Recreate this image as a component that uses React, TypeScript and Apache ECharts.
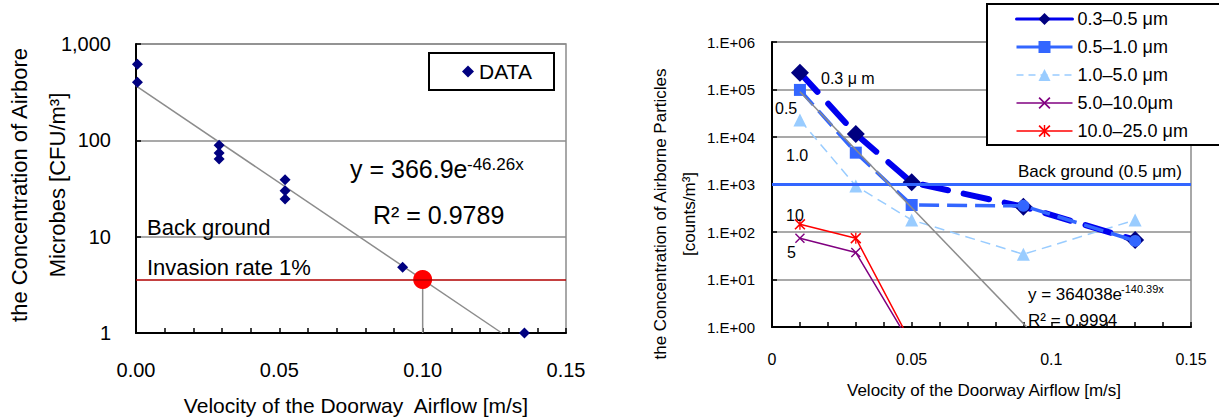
import React, { useEffect, useRef } from 'react';
import * as echarts from 'echarts';

const FONT = '"Liberation Sans", Arial, Helvetica, sans-serif';
const GRAY = '#8c8c8c';

// ---------- Left chart: airborne microbes ----------
const microbeVelocity = [0.0005, 0.0005, 0.029, 0.029, 0.029, 0.052, 0.052, 0.052, 0.093, 0.1355];
const microbeConc = [615, 400, 89, 74, 64, 39, 30, 24.6, 4.8, 1];
const microbeFitX = [0, 0.1276];
const microbeFitY = [366.9, 1];
const invasionLevel = 3.6;
const invasionVelocity = 0.1;
const leftYMin = 1;
const leftYMax = 1000;

// ---------- Right chart: airborne particles ----------
const particleVelocity = [0.01, 0.03, 0.05, 0.09, 0.13];
const p03to05 = [226000, 11600, 1110, 341, 68];
const p05to10 = [98000, 4680, 370, 355, 65];
const p10to50 = [22800, 930, 179, 34, 179];
const coarseVelocity = [0.01, 0.03, 0.05];
const p50to100 = [74, 37, 0.4];
const p100to250 = [145, 74, 0.44];
const particleFitX = [0.01, 0.0912];
const particleFitY = [89400, 1];
const backgroundLevel = 1000;
const sizeNames = ['0.3–0.5 μm', '0.5–1.0 μm', '1.0–5.0 μm', '5.0–10.0μm', '10.0–25.0 μm'];

const pts = (xs: number[], ys: number[]) => xs.map((x, i) => [x, ys[i]]);

const crossPath = 'path://M0,1L1,0L5,4L9,0L10,1L6,5L10,9L9,10L5,6L1,10L0,9L4,5Z';
const starPath = 'path://M0,1L1,0L5,4L9,0L10,1L6,5L10,9L9,10L5,6L1,10L0,9L4,5Z M4.4,0L5.6,0L5.6,10L4.4,10Z';

const txt = (text: string, x: number, y: number, fontSize: number, extra: any = {}) => ({
  type: 'text',
  x,
  y,
  z: 20,
  rotation: extra.rotation || 0,
  style: {
    text,
    fontSize,
    fontFamily: FONT,
    fill: '#000',
    align: extra.align || 'left',
    textAlign: extra.align || 'left',
    verticalAlign: 'middle',
    textVerticalAlign: 'middle',
  },
});

export default function App() {
  const ref = useRef<HTMLDivElement>(null);

  useEffect(() => {
    if (!ref.current) return;
    const chart = echarts.init(ref.current, null, { renderer: 'svg' });

    const axisLine = { show: true, onZero: false, lineStyle: { color: '#000', width: 2 } };
    const tick = { show: true, inside: true, length: 5, lineStyle: { color: '#000', width: 1.5 } };

    const option: any = {
      animation: false,
      backgroundColor: '#fff',
      textStyle: { fontFamily: FONT, color: '#000' },
      grid: [
        { left: 136, top: 44, width: 430, height: 289, show: true, borderColor: GRAY, borderWidth: 1.5, backgroundColor: 'transparent', outerBoundsMode: 'none' },
        { left: 772, top: 42, width: 419, height: 285, show: true, borderColor: GRAY, borderWidth: 1.5, backgroundColor: 'transparent', outerBoundsMode: 'none' },
      ],
      xAxis: [
        {
          gridIndex: 0, type: 'value', min: 0, max: 0.15, interval: 0.05,
          axisLine, axisTick: tick,
          minorTick: { show: true, splitNumber: 5, length: 5, lineStyle: { color: '#000', width: 1.5 } },
          splitLine: { show: false }, minorSplitLine: { show: false },
          axisLabel: { fontSize: 20, color: '#000', fontFamily: FONT, margin: 27, formatter: (v: number) => v.toFixed(2) },
        },
        {
          gridIndex: 1, type: 'value', min: 0, max: 0.15, interval: 0.05,
          axisLine, axisTick: tick,
          minorTick: { show: true, splitNumber: 5, length: 5, lineStyle: { color: '#000', width: 1.5 } },
          splitLine: { show: false }, minorSplitLine: { show: false },
          axisLabel: { fontSize: 16, color: '#000', fontFamily: FONT, margin: 24 },
        },
      ],
      yAxis: [
        {
          gridIndex: 0, type: 'log', logBase: 10, min: leftYMin, max: leftYMax,
          axisLine, axisTick: tick,
          splitLine: { show: true, lineStyle: { color: GRAY, width: 1.5 } },
          axisLabel: { fontSize: 20, color: '#000', fontFamily: FONT, margin: 25, formatter: (v: number) => Math.round(v).toLocaleString('en-US') },
        },
        {
          gridIndex: 1, type: 'log', logBase: 10, min: 1, max: 1000000,
          axisLine, axisTick: tick,
          splitLine: { show: true, lineStyle: { color: GRAY, width: 1.5 } },
          axisLabel: {
            fontSize: 15, color: '#000', fontFamily: FONT, margin: 17,
            formatter: (v: number) => '1.E+' + String(Math.round(Math.log10(v))).padStart(2, '0'),
          },
        },
      ],
      legend: [
        {
          data: [{ name: 'DATA', itemStyle: { color: '#000080', opacity: 1 } }], left: 462, top: 61, orient: 'vertical', padding: 0,
          itemWidth: 12, itemHeight: 12, selectedMode: false, z: 10,
          textStyle: { fontSize: 21, color: '#000', fontFamily: FONT },
        },
        {
          data: [
            { name: sizeNames[0], lineStyle: { type: 'solid', width: 3, color: '#0000ee' }, itemStyle: { color: '#000080' } },
            { name: sizeNames[1], lineStyle: { type: 'solid', width: 3, color: '#3366ff' } },
            { name: sizeNames[2], lineStyle: { type: [7, 5], width: 1.5, color: '#99ccff' } },
            { name: sizeNames[3], lineStyle: { type: 'solid', width: 1.5, color: '#800080' } },
            { name: sizeNames[4], lineStyle: { type: 'solid', width: 1.5, color: '#ff0000' } },
          ],
          left: 1015, top: 10, orient: 'vertical', padding: 0,
          itemWidth: 56, itemHeight: 15, itemGap: 10, selectedMode: false, z: 10,
          textStyle: { fontSize: 18, color: '#000', fontFamily: FONT },
        },
      ],
      series: [
        // left chart
        {
          type: 'line', xAxisIndex: 0, yAxisIndex: 0, data: pts(microbeFitX, microbeFitY),
          symbol: 'none', lineStyle: { color: GRAY, width: 1.5 }, z: 2, silent: true,
          markLine: {
            silent: true, symbol: 'none', label: { show: false },
            lineStyle: { color: '#b00000', width: 1.5, type: 'solid' },
            data: [{ yAxis: invasionLevel }],
          },
        },
        {
          type: 'line', xAxisIndex: 0, yAxisIndex: 0,
          data: [[invasionVelocity, leftYMin], [invasionVelocity, invasionLevel]],
          symbol: 'none', lineStyle: { color: GRAY, width: 1.5 }, z: 2, silent: true,
        },
        {
          name: 'DATA', type: 'scatter', xAxisIndex: 0, yAxisIndex: 0,
          data: pts(microbeVelocity, microbeConc), symbol: 'diamond', symbolSize: 11,
          itemStyle: { color: '#000080', opacity: 1 }, z: 3,
        },
        {
          type: 'scatter', xAxisIndex: 0, yAxisIndex: 0,
          data: [[invasionVelocity, invasionLevel]], symbol: 'circle', symbolSize: 19,
          itemStyle: { color: '#ff0000', opacity: 1 }, z: 4,
        },
        // right chart
        {
          name: sizeNames[2], type: 'line', xAxisIndex: 1, yAxisIndex: 1,
          data: pts(particleVelocity, p10to50), symbol: 'triangle', symbolSize: 13,
          itemStyle: { color: '#99ccff' }, lineStyle: { color: '#99ccff', width: 1.5, type: [10, 6] }, z: 2,
          markLine: {
            silent: true, symbol: 'none', label: { show: false },
            lineStyle: { color: '#3366ff', width: 3, type: 'solid' },
            data: [{ yAxis: backgroundLevel }],
          },
        },
        {
          name: sizeNames[3], type: 'line', xAxisIndex: 1, yAxisIndex: 1,
          data: pts(coarseVelocity, p50to100), symbol: crossPath, symbolSize: 10,
          itemStyle: { color: '#800080' }, lineStyle: { color: '#800080', width: 1.5 }, z: 2,
        },
        {
          name: sizeNames[4], type: 'line', xAxisIndex: 1, yAxisIndex: 1,
          data: pts(coarseVelocity, p100to250), symbol: starPath, symbolSize: 11,
          itemStyle: { color: '#ff0000' }, lineStyle: { color: '#ff0000', width: 1.5 }, z: 2,
        },
        {
          name: sizeNames[0], type: 'line', xAxisIndex: 1, yAxisIndex: 1,
          data: pts(particleVelocity, p03to05), symbol: 'diamond', symbolSize: 18,
          itemStyle: { color: '#000080' }, lineStyle: { color: '#0000ee', width: 6, type: [26, 16], cap: 'round' }, z: 3,
        },
        {
          name: sizeNames[1], type: 'line', xAxisIndex: 1, yAxisIndex: 1,
          data: particleVelocity.map((x, i) => ({ value: [x, p05to10[i]], symbol: i >= 3 ? 'circle' : 'rect' })),
          symbol: 'rect', symbolSize: 12,
          itemStyle: { color: '#3366ff' }, lineStyle: { color: '#3366ff', width: 3.5, type: [20, 8] }, z: 4,
        },
        {
          type: 'line', xAxisIndex: 1, yAxisIndex: 1, data: pts(particleFitX, particleFitY),
          symbol: 'none', lineStyle: { color: GRAY, width: 1.5 }, z: 5, silent: true,
        },
      ],
      graphic: [
        { type: 'rect', z: 3, shape: { x: 429, y: 53, width: 125, height: 37 }, style: { fill: '#fff', stroke: '#000', lineWidth: 2 } },
        { type: 'rect', z: 3, shape: { x: 987, y: 4, width: 260, height: 141 }, style: { fill: '#fff', stroke: '#000', lineWidth: 2 } },
        // left texts
        txt('the Concentration of Airbore', 19, 185, 22, { rotation: Math.PI / 2, align: 'center' }),
        txt('Microbes [CFU/m³]', 57, 185, 22, { rotation: Math.PI / 2, align: 'center' }),
        txt('Velocity of the Doorway  Airflow [m/s]', 356, 405, 21, { align: 'center' }),
        txt('y = 366.9e', 350, 169, 25),
        txt('-46.26x', 467, 164, 17),
        txt('R² = 0.9789', 373, 215, 25),
        txt('Back ground', 147, 227, 22),
        txt('Invasion rate 1%', 147, 267, 22),
        // right texts
        txt('the Concentration of Airborne Particles', 660, 214, 17, { rotation: Math.PI / 2, align: 'center' }),
        txt('[counts/m³]', 689, 214, 17, { rotation: Math.PI / 2, align: 'center' }),
        txt('Velocity of the Doorway Airflow [m/s]', 984, 390, 17, { align: 'center' }),
        txt('0.3 μ m', 821, 78, 16),
        txt('0.5', 775, 108, 16),
        txt('1.0', 786, 155, 16),
        txt('10', 786, 215, 16),
        txt('5', 787, 252, 16),
        txt('Back ground (0.5 μm)', 1018, 171, 17),
        txt('y = 364038e', 1028, 294, 17),
        txt('-140.39x', 1121, 289, 11),
        txt('R² = 0.9994', 1028, 320, 17),
      ],
    };

    chart.setOption(option);
    return () => chart.dispose();
  }, []);

  return (
    <div
      ref={ref}
      style={{ position: 'fixed', left: 0, top: 0, width: 1219, height: 419, background: '#fff' }}
    />
  );
}
